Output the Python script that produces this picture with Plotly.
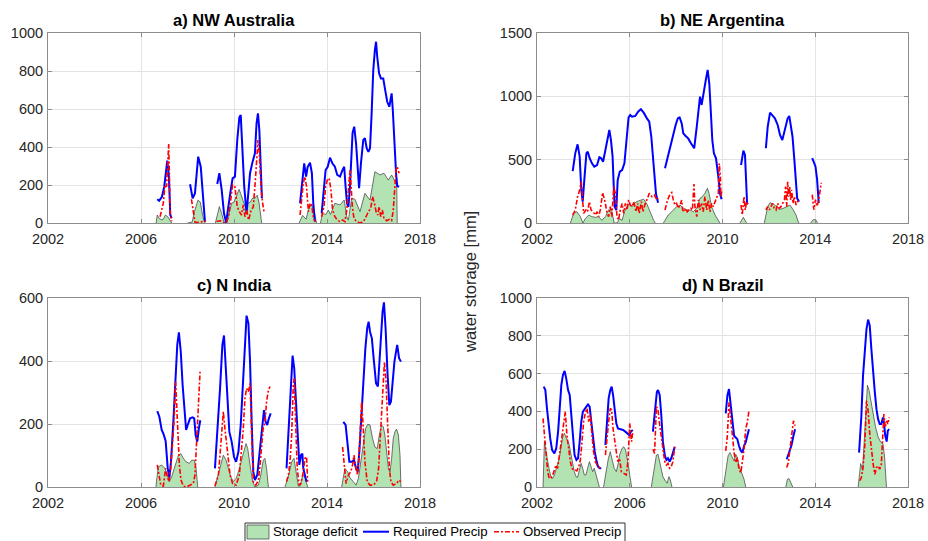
import plotly.graph_objects as go

W, H = 928, 541
N = None

titles = ["a) NW Australia", "b) NE Argentina", "c) N India", "d) N Brazil"]
x_ticks = [2002, 2006, 2010, 2014, 2018]
y_ticks_a = [0, 200, 400, 600, 800, 1000]
y_ticks_b = [0, 500, 1000, 1500]
y_ticks_c = [0, 200, 400, 600]
y_ticks_d = [0, 200, 400, 600, 800, 1000]
y_label = "water storage [mm]"
legend_names = ["Storage deficit", "Required Precip", "Observed Precip"]

# ---------------- a) NW Australia ----------------
a_def_t = [2006.65, 2006.70, 2006.78, 2006.90, 2006.96, 2007.05, 2007.15, 2007.25, 2007.32, N,
           2008.0, 2008.2, 2008.3, 2008.45, 2008.55, 2008.65, 2008.75, N,
           2009.2, 2009.37, 2009.47, 2009.58, 2009.68, 2009.8, 2009.9, 2010.0, 2010.1, 2010.22, 2010.3,
           2010.42, 2010.5, 2010.6, 2010.7, 2010.8, 2010.9, 2011.0, 2011.08, 2011.19, N,
           2012.8, 2012.95, 2013.1, 2013.2, 2013.33, 2013.45, 2013.55, N,
           2013.72, 2013.8, 2013.95, 2014.06, 2014.15, 2014.34, 2014.56, 2014.74, 2014.85, 2014.92,
           2015.06, 2015.2, 2015.42, 2015.63, 2015.85, 2016.06, 2016.28, 2016.45, 2016.64, 2016.78,
           2016.92, 2017.0, 2017.02]
a_def_v = [0, 42, 24, 16, 20, 42, 33, 10, 0, N,
           0, 5, 60, 120, 110, 40, 0, N,
           0, 86, 50, 0, 0, 50, 104, 110, 140, 177, 150,
           104, 80, 104, 110, 131, 130, 146, 104, 0, N,
           0, 40, 20, 70, 100, 60, 0, N,
           0, 50, 45, 68, 45, 104, 95, 121, 33, 15,
           130, 125, 60, 156, 121, 270, 253, 262, 226, 253,
           220, 200, 0]
a_req_t = [2006.70, 2006.78, 2006.90, 2007.0, 2007.13, 2007.2, 2007.26, 2007.32, N,
           2008.11, 2008.22, 2008.32, 2008.46, 2008.57, 2008.68, 2008.75, N,
           2009.28, 2009.37, 2009.47, 2009.57, 2009.66, 2009.76, 2009.86, 2009.94, 2010.04, 2010.14,
           2010.23, 2010.29, 2010.37, 2010.44, 2010.54, 2010.61, 2010.69, 2010.80, 2010.90, 2010.97,
           2011.03, 2011.09, 2011.16, 2011.2, N,
           2012.84, 2012.95, 2013.02, 2013.10, 2013.17, 2013.27, 2013.35, 2013.41, 2013.48, N,
           2013.77, 2013.87, 2013.94, 2014.03, 2014.13, 2014.23, 2014.34, 2014.44, 2014.56, 2014.67,
           2014.74, 2014.80, 2014.86, 2014.92, 2014.98, 2015.10, 2015.17, 2015.25, 2015.32, 2015.38,
           2015.46, 2015.56, 2015.63, 2015.71, 2015.78, 2015.85, 2015.92, 2015.99, 2016.06, 2016.11,
           2016.16, 2016.24, 2016.32, 2016.42, 2016.49, 2016.59, 2016.68, 2016.74, 2016.78, 2016.83,
           2016.89, 2016.97, 2017.02, 2017.10]
a_req_v = [125, 117, 138, 191, 328, 244, 42, 26, N,
           204, 130, 156, 349, 296, 104, 7, N,
           205, 262, 174, 51, 2, 104, 174, 235, 244, 437,
           556, 568, 384, 191, 51, 138, 262, 323, 367, 525,
           577, 489, 209, 130, N,
           104, 226, 314, 244, 296, 317, 262, 104, 7, N,
           51, 174, 279, 296, 344, 314, 296, 253, 244, 279,
           296, 191, 104, 85, 175, 474, 507, 419, 279, 183,
           314, 437, 446, 393, 375, 393, 577, 805, 911, 954,
           875, 788, 761, 761, 709, 638, 612, 665, 682, 595,
           437, 262, 195, 191]
a_obs_t = [2006.82, 2006.96, 2007.03, 2007.10, 2007.15, 2007.19, 2007.22, 2007.25, 2007.32, N,
           2008.17, 2008.25, 2008.32, 2008.45, 2008.6, 2008.7, 2008.8, N,
           2009.25, 2009.40, 2009.54, 2009.66, 2009.77, 2009.86, 2009.94, 2010.04, 2010.14, 2010.23,
           2010.32, 2010.40, 2010.47, 2010.54, 2010.63, 2010.72, 2010.83, 2010.92, 2010.97, 2011.03,
           2011.09, 2011.16, 2011.23, 2011.29, N,
           2012.84, 2012.91, 2012.98, 2013.05, 2013.12, 2013.20, 2013.27, 2013.34, 2013.41, 2013.48, N,
           2013.77, 2013.87, 2013.94, 2014.03, 2014.10, 2014.17, 2014.24, 2014.34, 2014.44, 2014.56,
           2014.67, 2014.77, 2014.85, 2014.92, 2014.99, 2015.03, 2015.09, 2015.16, 2015.28, 2015.42,
           2015.56, 2015.68, 2015.78, 2015.88, 2015.96, 2016.04, 2016.11, 2016.18, 2016.24, 2016.31,
           2016.38, 2016.45, 2016.57, 2016.68, 2016.78, 2016.85, 2016.91, 2016.97, 2017.02, 2017.10]
a_obs_v = [33, 104, 200, 191, 314, 416, 270, 60, 9, N,
           125, 60, 5, 3, 5, 12, 8, N,
           8, 12, 4, 0, 33, 121, 200, 191, 86, 60,
           42, 95, 33, 68, 16, 60, 86, 226, 349, 437,
           367, 191, 104, 60, N,
           42, 121, 209, 244, 191, 60, 104, 95, 33, 7, N,
           33, 86, 191, 235, 230, 174, 68, 33, 16, 7,
           16, 7, 68, 174, 279, 209, 86, 24, 7, 0,
           7, 33, 60, 77, 138, 104, 60, 42, 86, 33,
           68, 24, 12, 19, 12, 68, 209, 279, 296, 262]

# ---------------- b) NE Argentina ----------------
b_def_t = [2003.44, 2003.58, 2003.72, 2003.87, 2003.98, 2004.08, 2004.23, 2004.37, 2004.52, 2004.66,
           2004.80, 2004.95, 2005.09, 2005.16, 2005.23, 2005.33, 2005.45, 2005.56, 2005.67, 2005.77,
           2005.88, 2006.0, 2006.10, 2006.2, 2006.31, 2006.46, 2006.6, 2006.74, 2006.89, 2007.03, 2007.10, N,
           2007.45, 2007.52, 2007.66, 2007.81, 2008.02, 2008.17, 2008.31, 2008.45, 2008.6, 2008.74,
           2008.89, 2008.96, 2009.03, 2009.13, 2009.24, 2009.35, 2009.42, 2009.53, 2009.68, 2009.82, 2009.89, N,
           2010.75, 2010.90, 2011.01, 2011.05, N,
           2011.80, 2011.95, 2012.05, 2012.19, 2012.34, 2012.48, 2012.62, 2012.77, 2012.91, 2013.05,
           2013.17, 2013.27, 2013.3, N,
           2013.8, 2013.91, 2014.02, 2014.1]
b_def_v = [0, 76, 89, 50, 0, 34, 63, 50, 45, 50,
           21, 50, 103, 116, 89, 0, 0, 34, 21, 89,
           129, 155, 129, 155, 170, 180, 188, 150, 80, 21, 0, N,
           0, 21, 63, 89, 129, 142, 116, 103, 103, 89,
           116, 155, 195, 208, 234, 274, 234, 129, 63, 21, 0, N,
           0, 45, 8, 0, N,
           0, 129, 160, 150, 129, 108, 116, 129, 142, 103,
           63, 8, 0, N,
           0, 26, 26, 0]
b_req_t = [2003.54, 2003.65, 2003.75, 2003.84, 2003.91, 2003.97, 2004.04, 2004.13, 2004.19, 2004.27,
           2004.37, 2004.47, 2004.59, 2004.69, 2004.77, 2004.85, 2004.95, 2005.05, 2005.12, 2005.19,
           2005.26, 2005.31, 2005.35, 2005.42, 2005.48, 2005.57, 2005.67, 2005.77, 2005.85, 2005.95,
           2006.02, 2006.10, 2006.24, 2006.36, 2006.48, 2006.60, 2006.74, 2006.84, 2006.93, 2007.03,
           2007.13, 2007.22, N,
           2007.52, 2007.66, 2007.78, 2007.88, 2007.98, 2008.07, 2008.15, 2008.24, 2008.31, 2008.41,
           2008.52, 2008.64, 2008.78, 2008.89, 2008.99, 2009.03, 2009.10, 2009.17, 2009.28, 2009.36,
           2009.43, 2009.50, 2009.56, 2009.63, 2009.72, 2009.82, 2009.89, 2009.96, N,
           2010.80, 2010.90, 2010.97, 2011.01, 2011.06, 2011.10, N,
           2011.87, 2011.95, 2012.05, 2012.15, 2012.26, 2012.38, 2012.48, 2012.58, 2012.69, 2012.81,
           2012.88, 2012.95, 2013.02, 2013.10, 2013.17, 2013.22, 2013.30, N,
           2013.87, 2014.01, 2014.08, 2014.12, 2014.15]
b_req_v = [410, 550, 621, 524, 261, 168, 339, 550, 563, 511,
           471, 445, 458, 519, 511, 484, 576, 655, 734, 655,
           524, 287, 129, 103, 339, 405, 418, 471, 655, 834,
           853, 839, 845, 879, 898, 871, 826, 800, 681, 471,
           234, 160, N,
           432, 537, 642, 695, 774, 826, 834, 787, 708, 687,
           668, 629, 590, 760, 945, 997, 932, 997, 1129, 1208,
           1103, 866, 655, 550, 511, 366, 234, 187, N,
           458, 571, 537, 366, 156, 150, N,
           590, 760, 871, 845, 826, 774, 695, 655, 734, 826,
           845, 774, 681, 497, 313, 195, 168, N,
           513, 447, 342, 180, 158]
b_obs_t = [2003.54, 2003.65, 2003.75, 2003.84, 2003.91, 2003.97, 2004.01, 2004.11, 2004.18, 2004.26,
           2004.33, 2004.41, 2004.52, 2004.59, 2004.66, 2004.73, 2004.83, 2004.95, 2005.02, 2005.09,
           2005.16, 2005.23, 2005.31, 2005.38, 2005.45, 2005.52, 2005.59, 2005.67, 2005.74, 2005.81,
           2005.88, 2005.95, 2006.02, 2006.10, 2006.17, 2006.27, 2006.34, 2006.41, 2006.50, 2006.57,
           2006.67, 2006.77, 2006.84, 2006.96, 2007.06, 2007.17, 2007.22, N,
           2007.52, 2007.63, 2007.74, 2007.81, 2007.88, 2007.95, 2008.02, 2008.09, 2008.17, 2008.24,
           2008.28, 2008.35, 2008.41, 2008.48, 2008.55, 2008.63, 2008.70, 2008.77, 2008.81, 2008.89,
           2008.96, 2009.03, 2009.10, 2009.17, 2009.24, 2009.32, 2009.39, 2009.46, 2009.53, 2009.60,
           2009.68, 2009.75, 2009.82, 2009.86, 2009.91, 2009.93, 2009.96, N,
           2010.80, 2010.85, 2010.93, 2010.98, 2011.04, 2011.10, N,
           2011.87, 2011.95, 2012.02, 2012.09, 2012.16, 2012.23, 2012.31, 2012.38, 2012.45, 2012.52,
           2012.59, 2012.67, 2012.72, 2012.77, 2012.81, 2012.85, 2012.90, 2012.94, 2012.98, 2013.04,
           2013.10, 2013.17, 2013.24, 2013.31, N,
           2013.87, 2013.94, 2014.01, 2014.08, 2014.15, 2014.22, 2014.26]
b_obs_v = [63, 103, 208, 261, 326, 208, 76, 103, 89, 168,
           103, 89, 63, 89, 50, 103, 240, 155, 76, 50,
           129, 50, 287, 234, 50, 24, 103, 155, 76, 155,
           103, 182, 142, 129, 168, 89, 155, 76, 168, 89,
           155, 195, 234, 208, 221, 182, 195, N,
           103, 182, 229, 240, 182, 142, 155, 116, 142, 182,
           103, 89, 116, 89, 103, 116, 103, 308, 129, 50,
           182, 103, 155, 89, 208, 103, 182, 89, 155, 129,
           168, 195, 234, 471, 366, 208, 250, N,
           142, 63, 208, 103, 168, 142, N,
           103, 129, 103, 129, 155, 116, 103, 155, 116, 129,
           155, 182, 287, 129, 326, 208, 287, 182, 261, 155,
           208, 142, 168, 182, N,
           224, 105, 184, 132, 184, 263, 316]

# ---------------- c) N India ----------------
c_def_t = [2006.64, 2006.74, 2006.89, 2007.03, 2007.13, 2007.22, 2007.32, 2007.46, 2007.61, 2007.71,
           2007.82, 2007.94, 2008.08, 2008.18, 2008.29, 2008.37, 2008.44, N,
           2009.18, 2009.33, 2009.43, 2009.54, 2009.66, 2009.76, 2009.86, 2009.97, 2010.09, 2010.19,
           2010.29, 2010.40, 2010.52, 2010.59, 2010.69, 2010.80, 2010.90, 2011.05, 2011.15, 2011.26,
           2011.33, 2011.40, 2011.48, N,
           2012.19, 2012.34, 2012.48, 2012.58, 2012.67, 2012.77, 2012.84, 2012.94, 2013.02, 2013.10, 2013.17, N,
           2014.63, 2014.77, 2014.89, 2014.99, 2015.13, 2015.25, 2015.35, 2015.45, 2015.56, 2015.66,
           2015.75, 2015.85, 2015.96, 2016.06, 2016.16, 2016.25, 2016.35, 2016.42, 2016.49, 2016.57,
           2016.64, 2016.71, 2016.78, 2016.85, 2016.92, 2016.99, 2017.07, 2017.14, 2017.18]
c_def_v = [0, 64, 70, 59, 38, 17, 33, 70, 101, 106,
           91, 80, 75, 85, 85, 59, 0, N,
           0, 38, 70, 101, 85, 59, 33, 17, 27, 48,
           80, 106, 138, 122, 70, 17, 0, 6, 38, 85,
           91, 59, 0, N,
           0, 33, 80, 91, 48, 3, 3, 33, 38, 17, 0, N,
           0, 59, 48, 29, 17, 6, 27, 80, 144, 186,
           199, 197, 154, 127, 122, 165, 197, 191, 165, 112,
           59, 48, 91, 154, 175, 184, 165, 101, 0]
c_req_t = [2006.70, 2006.79, 2006.89, 2006.96, 2007.06, 2007.15, 2007.22, 2007.29, 2007.39, 2007.49,
           2007.56, 2007.63, 2007.71, 2007.79, 2007.86, 2007.94, 2008.01, 2008.11, 2008.22, 2008.29,
           2008.35, 2008.42, 2008.49, 2008.55, N,
           2009.18, 2009.28, 2009.40, 2009.50, 2009.57, 2009.64, 2009.71, 2009.80, 2009.90, 2010.00,
           2010.09, 2010.19, 2010.29, 2010.37, 2010.46, 2010.54, 2010.62, 2010.69, 2010.76, 2010.83,
           2010.90, 2011.00, 2011.09, 2011.19, 2011.29, 2011.36, 2011.43, 2011.50, 2011.58, N,
           2012.26, 2012.36, 2012.45, 2012.52, 2012.59, 2012.67, 2012.74, 2012.81, 2012.88, 2012.94,
           2012.98, 2013.05, 2013.12, N,
           2014.70, 2014.80, 2014.89, 2014.96, 2015.06, 2015.16, 2015.25, 2015.32, 2015.39, 2015.46,
           2015.56, 2015.65, 2015.73, 2015.79, 2015.85, 2015.93, 2016.02, 2016.11, 2016.19, 2016.25,
           2016.32, 2016.39, 2016.45, 2016.52, 2016.60, 2016.68, 2016.75, 2016.82, 2016.90, 2016.97,
           2017.02, 2017.10, 2017.18]
c_req_v = [241, 223, 181, 170, 146, 59, 30, 80, 207, 356,
           451, 491, 430, 324, 250, 181, 197, 218, 221, 218,
           165, 144, 186, 212, N,
           59, 165, 313, 451, 481, 387, 281, 175, 144, 96,
           80, 112, 197, 313, 451, 544, 519, 398, 207, 48,
           22, 38, 101, 165, 244, 207, 197, 218, 234, N,
           59, 207, 345, 417, 377, 250, 133, 70, 101, 106,
           59, 33, 17, N,
           207, 197, 133, 80, 80, 85, 59, 48, 112, 207,
           345, 440, 504, 525, 493, 472, 398, 329, 319, 398,
           493, 557, 586, 504, 366, 260, 271, 345, 398, 430,
           451, 409, 398]
c_obs_t = [2006.70, 2006.77, 2006.85, 2006.96, 2007.06, 2007.13, 2007.20, 2007.28, 2007.35, 2007.42,
           2007.49, 2007.53, 2007.59, 2007.65, 2007.72, 2007.82, 2007.96, 2008.11, 2008.25, 2008.32,
           2008.39, 2008.47, 2008.54, N,
           2009.18, 2009.33, 2009.43, 2009.54, 2009.61, 2009.71, 2009.83, 2009.94, 2010.09, 2010.23,
           2010.33, 2010.40, 2010.47, 2010.54, 2010.62, 2010.69, 2010.76, 2010.83, 2010.94, 2011.05,
           2011.12, 2011.19, 2011.26, 2011.33, 2011.40, 2011.48, 2011.55, N,
           2012.26, 2012.34, 2012.41, 2012.48, 2012.55, 2012.59, 2012.65, 2012.72, 2012.80, 2012.88,
           2012.98, 2013.05, 2013.12, 2013.17, N,
           2014.67, 2014.75, 2014.82, 2014.92, 2015.02, 2015.10, 2015.16, 2015.22, 2015.31, 2015.38,
           2015.43, 2015.49, 2015.56, 2015.63, 2015.73, 2015.85, 2015.99, 2016.13, 2016.22, 2016.31,
           2016.39, 2016.47, 2016.54, 2016.60, 2016.68, 2016.75, 2016.85, 2016.99, 2017.10, 2017.17]
c_obs_v = [70, 38, 6, 3, 59, 33, 17, 59, 122, 207,
           334, 260, 144, 70, 22, 3, 0, 6, 11, 38,
           165, 260, 366, N,
           3, 38, 133, 239, 186, 112, 38, 11, 6, 38,
           122, 186, 281, 313, 302, 329, 165, 17, 6, 22,
           70, 133, 191, 202, 271, 308, 319, N,
           17, 38, 80, 165, 324, 345, 207, 59, 6, 11,
           48, 91, 96, 17, N,
           127, 59, 11, 38, 48, 70, 101, 70, 38, 101,
           186, 271, 186, 80, 17, 6, 6, 17, 59, 186,
           292, 398, 334, 186, 59, 17, 6, 11, 22, 17]

# ---------------- d) N Brazil ----------------
d_def_t = [2002.26, 2002.32, 2002.39, 2002.46, 2002.53, 2002.60, 2002.68, 2002.75, 2002.82, 2002.89,
           2002.96, 2003.03, 2003.11, 2003.18, 2003.25, 2003.32, 2003.39, 2003.47, 2003.54, 2003.61,
           2003.68, 2003.75, 2003.83, 2003.90, 2003.97, 2004.04, 2004.11, 2004.18, 2004.26, 2004.33,
           2004.40, 2004.47, 2004.54, 2004.62, 2004.69, N,
           2004.87, 2004.98, 2005.08, 2005.16, 2005.25, 2005.33, 2005.42, 2005.49, 2005.56, 2005.67,
           2005.74, 2005.82, 2005.91, 2006.0, 2006.08, N,
           2006.93, 2007.03, 2007.15, 2007.22, 2007.29, 2007.36, 2007.43, 2007.51, 2007.61, 2007.69,
           2007.75, 2007.82, N,
           2010.04, 2010.14, 2010.24, 2010.32, 2010.43, 2010.50, 2010.57, 2010.64, 2010.71, 2010.79,
           2010.86, 2010.93, 2011.0, N,
           2012.73, 2012.80, 2012.87, 2012.97, 2013.03, N,
           2015.85, 2015.96, 2016.04, 2016.11, 2016.18, 2016.25, 2016.32, 2016.39, 2016.50, 2016.60,
           2016.71, 2016.82, 2016.92, 2016.99, 2017.07]
d_def_v = [0, 240, 187, 134, 90, 55, 46, 64, 90, 116,
           152, 205, 266, 284, 266, 240, 222, 169, 116, 81,
           55, 51, 90, 125, 99, 64, 64, 99, 134, 108,
           81, 99, 64, 29, 0, N,
           0, 81, 152, 187, 143, 99, 81, 116, 169, 205,
           213, 196, 134, 64, 0, N,
           0, 81, 169, 173, 134, 81, 55, 37, 20, 55,
           37, 0, N,
           0, 94, 165, 182, 156, 138, 173, 156, 112, 85,
           59, 41, 0, N,
           0, 41, 44, 18, 0, N,
           0, 124, 88, 265, 424, 538, 512, 459, 388, 318,
           265, 238, 229, 159, 0]
d_req_t = [2002.29, 2002.36, 2002.43, 2002.50, 2002.57, 2002.65, 2002.75, 2002.83, 2002.91, 2002.98,
           2003.05, 2003.12, 2003.19, 2003.26, 2003.34, 2003.41, 2003.48, 2003.55, 2003.62, 2003.70,
           2003.77, 2003.84, 2003.91, 2003.98, 2004.06, 2004.13, 2004.20, 2004.27, 2004.34, 2004.41,
           2004.49, 2004.56, 2004.63, 2004.70, 2004.77, N,
           2004.95, 2005.02, 2005.09, 2005.16, 2005.22, 2005.28, 2005.35, 2005.42, 2005.49, 2005.59,
           2005.71, 2005.81, 2005.91, 2005.98, 2006.05, 2006.13, N,
           2007.0, 2007.10, 2007.17, 2007.22, 2007.29, 2007.36, 2007.43, 2007.51, 2007.58, 2007.65,
           2007.72, 2007.79, 2007.86, 2007.94, N,
           2010.14, 2010.21, 2010.28, 2010.35, 2010.43, 2010.50, 2010.57, 2010.64, 2010.71, 2010.79,
           2010.86, 2010.93, 2011.0, 2011.07, 2011.14, N,
           2012.77, 2012.87, 2012.97, 2013.06, 2013.13, N,
           2015.89, 2015.99, 2016.06, 2016.14, 2016.21, 2016.28, 2016.35, 2016.42, 2016.50, 2016.57,
           2016.64, 2016.71, 2016.78, 2016.85, 2016.92, 2016.96, 2017.02, 2017.08, 2017.13, 2017.19]
d_req_v = [531, 513, 416, 328, 257, 196, 178, 205, 293, 416,
           540, 593, 614, 575, 513, 487, 363, 240, 169, 143,
           152, 240, 346, 399, 416, 425, 437, 425, 346, 257,
           187, 143, 108, 99, 99, N,
           222, 346, 469, 513, 531, 487, 399, 337, 310, 307,
           302, 293, 284, 275, 293, 302, N,
           293, 416, 504, 513, 487, 381, 240, 169, 143, 152,
           134, 152, 178, 213, N,
           390, 483, 518, 430, 359, 271, 262, 253, 218, 191,
           182, 218, 236, 271, 306, N,
           147, 182, 218, 271, 306, N,
           182, 377, 589, 748, 836, 886, 854, 730, 589, 501,
           412, 359, 333, 333, 368, 342, 271, 240, 298, 306]
d_obs_t = [2002.26, 2002.32, 2002.39, 2002.46, 2002.53, 2002.60, 2002.68, 2002.75, 2002.82, 2002.89,
           2002.95, 2003.01, 2003.08, 2003.15, 2003.22, 2003.29, 2003.37, 2003.44, 2003.51, 2003.58,
           2003.65, 2003.72, 2003.80, 2003.87, 2003.94, 2004.01, 2004.08, 2004.16, 2004.23, 2004.30,
           2004.37, 2004.44, 2004.52, 2004.59, 2004.66, 2004.73, N,
           2004.95, 2005.02, 2005.09, 2005.16, 2005.22, 2005.28, 2005.35, 2005.42, 2005.49, 2005.56,
           2005.64, 2005.74, 2005.85, 2005.92, 2005.97, 2006.0, 2006.04, 2006.08, 2006.13, N,
           2007.0, 2007.07, 2007.15, 2007.22, 2007.29, 2007.36, 2007.43, 2007.51, 2007.58, 2007.65,
           2007.72, 2007.79, 2007.86, 2007.94, N,
           2010.14, 2010.21, 2010.28, 2010.35, 2010.43, 2010.50, 2010.57, 2010.64, 2010.71, 2010.79,
           2010.86, 2010.93, 2011.0, 2011.07, 2011.14, N,
           2012.77, 2012.84, 2012.91, 2012.98, 2013.06, 2013.13, N,
           2015.92, 2015.99, 2016.06, 2016.14, 2016.21, 2016.28, 2016.35, 2016.42, 2016.50, 2016.57,
           2016.64, 2016.71, 2016.78, 2016.85, 2016.92, 2016.96, 2017.02, 2017.08, 2017.13, 2017.19]
d_obs_v = [363, 275, 187, 81, 46, 46, 64, 90, 116, 99,
           152, 222, 293, 346, 399, 275, 187, 134, 99, 90,
           90, 85, 108, 143, 240, 346, 390, 416, 346, 381,
           275, 187, 134, 116, 108, 99, N,
           169, 275, 346, 416, 408, 310, 240, 187, 134, 152,
           81, 72, 64, 134, 240, 337, 275, 240, 293, N,
           200, 178, 425, 407, 328, 257, 187, 134, 116, 125,
           99, 108, 134, 213, N,
           191, 271, 448, 377, 271, 182, 129, 156, 94, 76,
           129, 200, 306, 342, 403, N,
           103, 129, 200, 271, 350, 324, N,
           33, 50, 103, 227, 456, 403, 280, 191, 120, 67,
           103, 112, 94, 120, 262, 386, 315, 350, 333, 368]

# ---------------- styling / layout ----------------
FILL = "#b3e2b3"
EDGE = "#3a3a3a"
BLUE = "#0000ff"
RED = "#ff0000"
AXC = "#8c8c8c"
GRID = "#e3e3e3"
TXT = "#262626"
FONT = "Arial, 'Liberation Sans', sans-serif"
DASH = "5px,2px,2px,2px"

def px_x(p):
    return p / W

def px_y(p):
    return 1 - p / H

domains = [
    ((48, 420), (33, 223)),
    ((537, 908), (33, 223)),
    ((48, 420), (298, 487)),
    ((537, 908), (298, 487)),
]
panels = [
    (a_def_t, a_def_v, a_req_t, a_req_v, a_obs_t, a_obs_v, y_ticks_a),
    (b_def_t, b_def_v, b_req_t, b_req_v, b_obs_t, b_obs_v, y_ticks_b),
    (c_def_t, c_def_v, c_req_t, c_req_v, c_obs_t, c_obs_v, y_ticks_c),
    (d_def_t, d_def_v, d_req_t, d_req_v, d_obs_t, d_obs_v, y_ticks_d),
]

fig = go.Figure()
layout = dict(
    width=W, height=H, margin=dict(l=0, r=0, t=0, b=0, pad=0),
    paper_bgcolor="white", plot_bgcolor="white", showlegend=False,
    font=dict(family=FONT, color=TXT, size=14),
)
annotations = []
for i, (dt, dv, rt, rv, ot, ov, yt) in enumerate(panels):
    k = "" if i == 0 else str(i + 1)
    xa, ya = "x" + k, "y" + k
    fig.add_trace(go.Scatter(x=dt, y=dv, mode="lines", fill="tozeroy", fillcolor=FILL,
                             line=dict(color=EDGE, width=0.7), xaxis=xa, yaxis=ya,
                             name=legend_names[0], hoverinfo="skip"))
    fig.add_trace(go.Scatter(x=rt, y=rv, mode="lines", line=dict(color=BLUE, width=2),
                             xaxis=xa, yaxis=ya, name=legend_names[1]))
    fig.add_trace(go.Scatter(x=ot, y=ov, mode="lines", line=dict(color=RED, width=1.6, dash=DASH),
                             xaxis=xa, yaxis=ya, name=legend_names[2]))
    (x0, x1), (y0, y1) = domains[i]
    common = dict(showline=True, linecolor=AXC, linewidth=1, mirror="ticks", ticks="inside",
                  ticklen=4, tickcolor=AXC, showgrid=True, gridcolor=GRID, gridwidth=1,
                  zeroline=False, automargin=False,
                  tickfont=dict(size=14.5, color=TXT, family=FONT))
    layout["xaxis" + k] = dict(domain=[px_x(x0), px_x(x1)], range=[2002, 2018],
                               tickvals=x_ticks, ticktext=[str(t) for t in x_ticks],
                               anchor=ya, ticklabelstandoff=3, **common)
    layout["yaxis" + k] = dict(domain=[px_y(y1), px_y(y0)], range=[yt[0], yt[-1]],
                               tickvals=yt, ticktext=[str(t) for t in yt],
                               anchor=xa, ticklabelstandoff=1, **common)
    annotations.append(dict(text="<b>%s</b>" % titles[i], x=px_x((x0 + x1) / 2),
                            y=px_y(y0 - 13), xref="paper", yref="paper", showarrow=False,
                            xanchor="center", yanchor="middle",
                            font=dict(size=16.5, color="#000000", family=FONT)))

annotations.append(dict(text=y_label, x=px_x(470), y=px_y(282), xref="paper", yref="paper",
                        showarrow=False, textangle=-90, xanchor="center", yanchor="middle",
                        font=dict(size=16.5, color=TXT, family=FONT)))

# legend drawn as shapes + text
shapes = [
    dict(type="rect", xref="paper", yref="paper", x0=px_x(245), x1=px_x(625),
         y0=px_y(548), y1=px_y(523), line=dict(color="#333333", width=1), fillcolor="white", layer="above"),
    dict(type="rect", xref="paper", yref="paper", x0=px_x(247), x1=px_x(269),
         y0=px_y(539), y1=px_y(525), line=dict(color=EDGE, width=0.7), fillcolor=FILL, layer="above"),
    dict(type="line", xref="paper", yref="paper", x0=px_x(363), x1=px_x(389),
         y0=px_y(531.7), y1=px_y(531.7), line=dict(color=BLUE, width=2), layer="above"),
    dict(type="line", xref="paper", yref="paper", x0=px_x(494), x1=px_x(519),
         y0=px_y(531.7), y1=px_y(531.7), line=dict(color=RED, width=1.6, dash=DASH), layer="above"),
]
for name, xp in zip(legend_names, [270.5, 390.5, 520.5]):
    annotations.append(dict(text=name, x=px_x(xp), y=px_y(531.7), xref="paper", yref="paper",
                            showarrow=False, xanchor="left", yanchor="middle",
                            font=dict(size=13.2, color="#000000", family=FONT)))

layout["annotations"] = annotations
layout["shapes"] = shapes
fig.update_layout(**layout)
fig.write_html("out.html", config={"displayModeBar": False},
               post_script="document.body.style.margin='0';")
